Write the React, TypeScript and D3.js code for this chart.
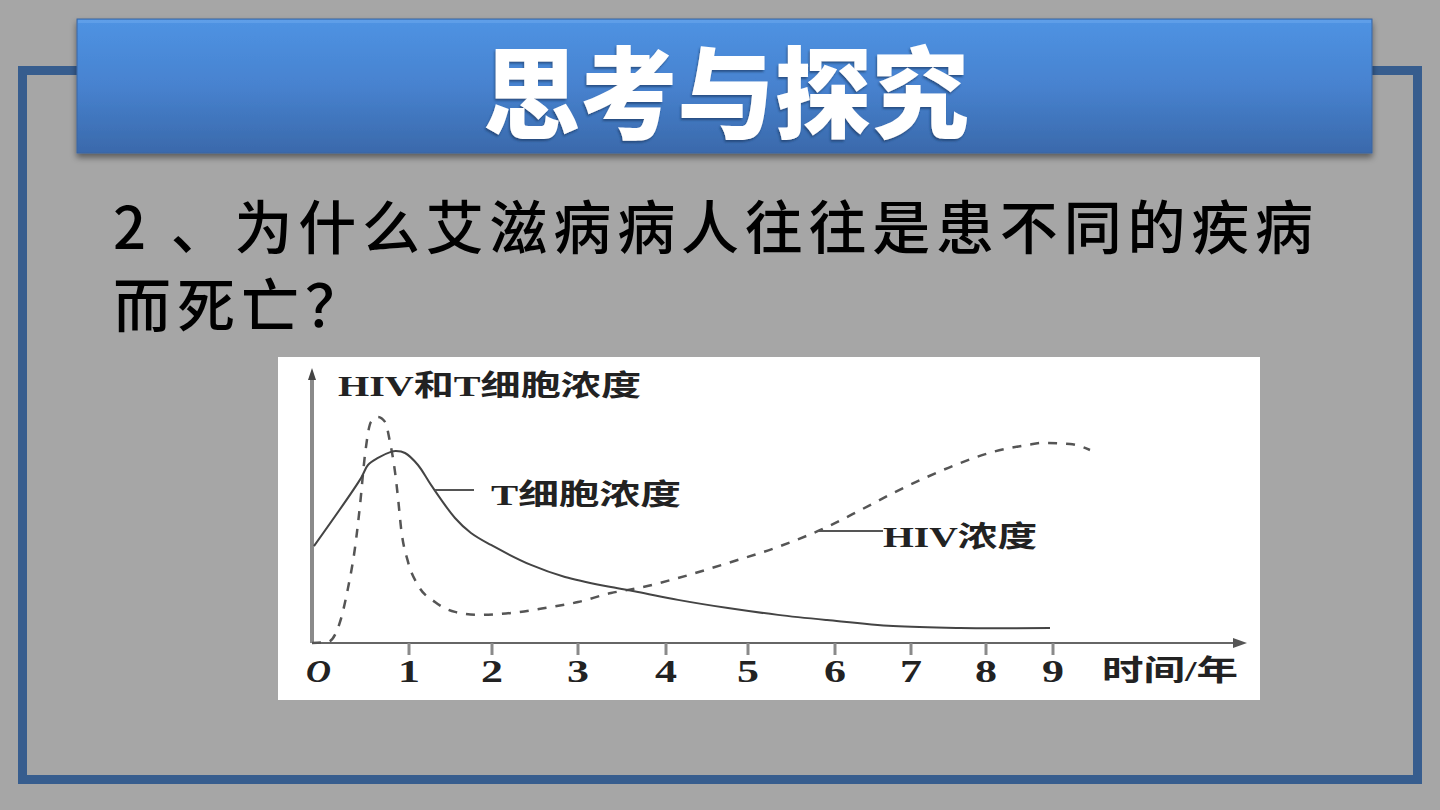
import React from 'react';
import * as d3 from 'd3';

// ---------- text content ----------
const titleText = '思考与探究';
const questionLine1 = '2 、为什么艾滋病病人往往是患不同的疾病';
const questionLine2 = '而死亡？';
const yAxisLabel = 'HIV和T细胞浓度';
const xAxisLabel = '时间/年';
const tCellLabel = 'T细胞浓度';
const hivLabel = 'HIV浓度';
const originLabel = 'O';
const xTicks = [1, 2, 3, 4, 5, 6, 7, 8, 9];

// ---------- series (years, relative concentration 0-100) ----------
const tCellYears = [0.02, 0.505, 0.577, 0.68, 0.814, 0.866, 0.959, 1.108, 1.265, 1.554, 1.747, 1.988, 2.453, 2.849, 3.375, 3.682, 4.146, 4.756, 5.345, 5.908, 6.763, 7.653, 8.955];
const tCellValues = [35.5, 60.4, 65.2, 67.8, 70.0, 70.3, 69.6, 65.2, 57.9, 45.8, 40.3, 35.9, 28.6, 24.2, 20.5, 18.7, 15.8, 12.8, 10.3, 8.4, 6.2, 5.5, 5.5];

const hivYears = [0, 0.165, 0.289, 0.371, 0.443, 0.495, 0.546, 0.608, 0.68, 0.753, 0.804, 0.856, 0.887, 0.918, 0.99, 1.108, 1.313, 1.554, 1.831, 2.221, 2.616, 3.0, 3.375, 3.682, 4.146, 4.756, 5.345, 5.908, 6.329, 6.763, 7.213, 7.653, 8.104, 8.612, 8.851, 9.254, 9.552];
const hivValues = [0, 0.4, 7.7, 20.1, 34.8, 50.5, 68.9, 81.0, 82.8, 81.0, 73.6, 62.6, 53.1, 42.1, 29.7, 21.2, 15.0, 11.4, 10.3, 11.0, 12.8, 15.0, 18.3, 20.1, 23.8, 29.3, 35.2, 42.5, 48.6, 54.9, 60.8, 65.9, 70.0, 72.5, 73.3, 72.9, 70.7];

// ---------- layout ----------
const W = 1440;
const H = 810;
const axisX0 = 312;
const axisY0 = 643;
const axisYTop = 370;
const axisXEnd = 1247;
// the source figure is hand drawn: year intervals on the time axis are uneven (px per year)
const yearWidths = [97, 83, 86, 88, 82, 87, 76, 75, 67];
const xRange = yearWidths.reduce((acc, w) => { acc.push(acc[acc.length - 1] + w); return acc; }, [axisX0]);

const xScale = d3.scaleLinear().domain(d3.range(0, 10)).range(xRange);
const yScale = d3.scaleLinear().domain([0, 100]).range([axisY0, axisYTop]);

const tLine = d3.line<[number, number]>()
  .x(d => xScale(d[0]))
  .y(d => yScale(d[1]))
  .curve(d3.curveCatmullRom.alpha(0.5));
const hLine = d3.line<[number, number]>()
  .x(d => xScale(d[0]))
  .y(d => yScale(d[1]))
  .curve(d3.curveMonotoneX);

const tCellPath = tLine(tCellYears.map((y, i) => [y, tCellValues[i]] as [number, number])) || '';
const hivPath = hLine(hivYears.map((y, i) => [y, hivValues[i]] as [number, number])) || '';

const chartFont = "'Liberation Serif', 'Noto Sans CJK SC', serif";
const cjkFont = "'Noto Sans CJK SC', sans-serif";

export default function App() {
  React.useEffect(() => {
    document.body.style.margin = '0';
  }, []);
  return (
    <svg width={W} height={H} viewBox={`0 0 ${W} ${H}`} style={{ position: 'absolute', left: 0, top: 0, display: 'block' }}>
      <defs>
        <linearGradient id="banner" x1="0" y1="0" x2="0" y2="1">
          <stop offset="0" stopColor="#4f93e3" />
          <stop offset="0.5" stopColor="#4782cf" />
          <stop offset="1" stopColor="#3a69ab" />
        </linearGradient>
        <filter id="shadow" x="-5%" y="-20%" width="110%" height="150%">
          <feDropShadow dx="0" dy="4" stdDeviation="3" floodColor="#000" floodOpacity="0.45" />
        </filter>
        <filter id="textShadow" x="-5%" y="-20%" width="110%" height="140%">
          <feDropShadow dx="-1" dy="2" stdDeviation="1" floodColor="#1d3b66" floodOpacity="0.7" />
        </filter>
      </defs>

      {/* background */}
      <rect x={0} y={0} width={W} height={H} fill="#a6a6a6" />

      {/* frame */}
      <rect x={22.5} y={70.5} width={1395} height={709} fill="none" stroke="#375d8e" strokeWidth={9} />

      {/* banner */}
      <rect x={77} y={19} width={1295} height={134} fill="url(#banner)" stroke="#3a64a0" strokeWidth={1} filter="url(#shadow)" />
      <rect x={78} y={20} width={1293} height={3} fill="#6aa6ec" opacity={0.6} />
      <text x={483} y={87} fontFamily={cjkFont} fontWeight={900} fontSize={100} fill="#ffffff"
        dominantBaseline="central" textLength={486} lengthAdjust="spacingAndGlyphs" filter="url(#textShadow)">
        {titleText}
      </text>

      {/* question */}
      <text x={113} y={224} fontFamily={cjkFont} fontWeight={500} fontSize={58} fill="#000"
        dominantBaseline="central" textLength={1200} lengthAdjust="spacing">
        {questionLine1}
      </text>
      <text x={113} y={302} fontFamily={cjkFont} fontWeight={500} fontSize={58} fill="#000"
        dominantBaseline="central" letterSpacing={6}>
        {questionLine2}
      </text>

      {/* chart picture */}
      <rect x={278} y={357} width={982} height={343} fill="#ffffff" />

      {/* y axis */}
      <line x1={axisX0} y1={axisY0} x2={axisX0} y2={axisYTop + 6} stroke="#8a8a8a" strokeWidth={4} />
      <path d={`M${axisX0},${axisYTop - 2} L${axisX0 - 4},${axisYTop + 10} L${axisX0 + 4},${axisYTop + 10} Z`} fill="#444" />
      {/* x axis */}
      <line x1={axisX0} y1={axisY0} x2={axisXEnd - 8} y2={axisY0} stroke="#666" strokeWidth={2} />
      <path d={`M${axisXEnd},${axisY0} L${axisXEnd - 14},${axisY0 - 5} L${axisXEnd - 14},${axisY0 + 5} Z`} fill="#555" />

      {/* ticks */}
      {xTicks.map(t => (
        <g key={t}>
          <line x1={xScale(t)} y1={axisY0} x2={xScale(t)} y2={axisY0 + 12} stroke="#8a8a8a" strokeWidth={3} />
          <text x={xScale(t) - 11} y={671} fontFamily={chartFont} fontWeight="bold" fontSize={32} fill="#222"
            dominantBaseline="central" textLength={22} lengthAdjust="spacingAndGlyphs">
            {String(t)}
          </text>
        </g>
      ))}
      <text x={xScale(0) - 6} y={671} fontFamily={chartFont} fontWeight="bold" fontStyle="italic" fontSize={32} fill="#222"
        dominantBaseline="central" textLength={25} lengthAdjust="spacingAndGlyphs">
        {originLabel}
      </text>
      <text x={1102} y={671} fontFamily={chartFont} fontWeight="bold" fontSize={29} fill="#222"
        dominantBaseline="central" textLength={136} lengthAdjust="spacingAndGlyphs">
        {xAxisLabel}
      </text>
      <text x={338} y={386} fontFamily={chartFont} fontWeight="bold" fontSize={29} fill="#222"
        dominantBaseline="central" textLength={303} lengthAdjust="spacingAndGlyphs">
        {yAxisLabel}
      </text>

      {/* curves */}
      <path d={hivPath} fill="none" stroke="#555" strokeWidth={2.5} strokeDasharray="9,9" />
      <path d={tCellPath} fill="none" stroke="#444" strokeWidth={2} />

      {/* curve labels */}
      <line x1={435} y1={490} x2={474} y2={490} stroke="#555" strokeWidth={2} />
      <text x={491} y={495} fontFamily={chartFont} fontWeight="bold" fontSize={29} fill="#222"
        dominantBaseline="central" textLength={190} lengthAdjust="spacingAndGlyphs">
        {tCellLabel}
      </text>
      <line x1={817} y1={531} x2={883} y2={531} stroke="#555" strokeWidth={2} />
      <text x={883} y={537} fontFamily={chartFont} fontWeight="bold" fontSize={29} fill="#222"
        dominantBaseline="central" textLength={154} lengthAdjust="spacingAndGlyphs">
        {hivLabel}
      </text>
    </svg>
  );
}
